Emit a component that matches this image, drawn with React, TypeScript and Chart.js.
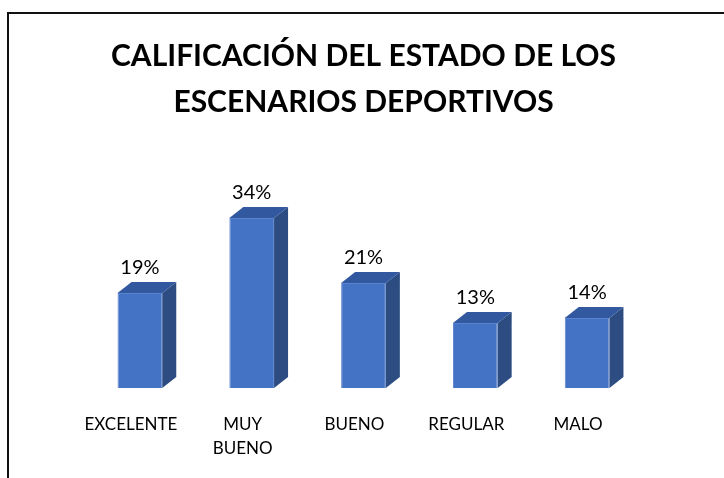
import React, { useEffect, useRef } from "react";
import { Chart, registerables } from "chart.js";

Chart.register(...registerables);

const titleLines = ["CALIFICACIÓN DEL ESTADO DE LOS", "ESCENARIOS DEPORTIVOS"];
const categories: (string | string[])[] = ["EXCELENTE", ["MUY", "BUENO"], "BUENO", "REGULAR", "MALO"];
const values = [19, 34, 21, 13, 14];
const valueLabels = ["19%", "34%", "21%", "13%", "14%"];

const FONT = "Lato, 'Open Sans', sans-serif";
const FRONT = "#4472C4";
const SIDE = "#2C4C82";
const TOP = "#3259A0";
const DX = 14;
const DY = 11;

const frame = {
  id: "frame",
  beforeDraw(chart: any) {
    const { ctx, width, height } = chart;
    ctx.save();
    ctx.fillStyle = "#ffffff";
    ctx.fillRect(0, 0, width, height);
    ctx.fillStyle = "#111111";
    ctx.fillRect(7, 12, width - 7, 2);
    ctx.fillRect(7, 12, 2, height - 12);
    ctx.restore();
  },
};

const bars3d = {
  id: "bars3d",
  afterDatasetsDraw(chart: any) {
    const { ctx } = chart;
    const meta = chart.getDatasetMeta(0);
    ctx.save();
    meta.data.forEach((bar: any, i: number) => {
      const { x, y, base, width } = bar.getProps(["x", "y", "base", "width"], true);
      const l = x - width / 2;
      const r = x + width / 2;
      ctx.fillStyle = SIDE;
      ctx.beginPath();
      ctx.moveTo(r, y);
      ctx.lineTo(r + DX, y - DY);
      ctx.lineTo(r + DX, base - DY);
      ctx.lineTo(r, base);
      ctx.closePath();
      ctx.fill();
      ctx.fillStyle = TOP;
      ctx.beginPath();
      ctx.moveTo(l, y);
      ctx.lineTo(l + DX, y - DY);
      ctx.lineTo(r + DX, y - DY);
      ctx.lineTo(r, y);
      ctx.closePath();
      ctx.fill();
      ctx.fillStyle = "#000000";
      ctx.font = `20px ${FONT}`;
      ctx.textAlign = "center";
      ctx.textBaseline = "alphabetic";
      ctx.fillText(valueLabels[i], x, y - 19);
    });
    ctx.restore();
  },
};

export default function App() {
  const ref = useRef<HTMLCanvasElement | null>(null);
  useEffect(() => {
    if (!ref.current) return;
    const chart = new Chart(ref.current, {
      type: "bar",
      data: {
        labels: categories as any,
        datasets: [
          {
            data: values,
            backgroundColor: FRONT,
            borderColor: "#5A84CF",
            borderWidth: 1,
            barPercentage: 0.4,
            categoryPercentage: 1,
          },
        ],
      },
      options: {
        animation: false,
        responsive: false,
        maintainAspectRatio: false,
        layout: { padding: { left: 84, right: 81, top: 0, bottom: 0 } },
        plugins: {
          legend: { display: false },
          tooltip: { enabled: false },
          title: {
            display: true,
            text: titleLines,
            color: "#000000",
            font: { family: FONT, size: 30, weight: "bold", lineHeight: 1.533 },
            padding: { top: 33, bottom: 63 },
          },
        },
        scales: {
          x: {
            grid: { display: false, drawTicks: false },
            border: { display: false },
            afterFit: (scale: any) => {
              scale.height = 90;
            },
            ticks: {
              color: "#000000",
              font: { family: FONT, size: 17, lineHeight: 1.41 },
              padding: 25,
              labelOffset: -9,
              maxRotation: 0,
              autoSkip: false,
            },
          },
          y: { display: false, min: 0, max: 40 },
        },
      },
      plugins: [frame, bars3d],
    });
    return () => chart.destroy();
  }, []);
  return (
    <div style={{ position: "absolute", left: 0, top: 0, width: 724, height: 478 }}>
      <canvas ref={ref} width={724} height={478} style={{ width: 724, height: 478, display: "block" }} />
    </div>
  );
}
